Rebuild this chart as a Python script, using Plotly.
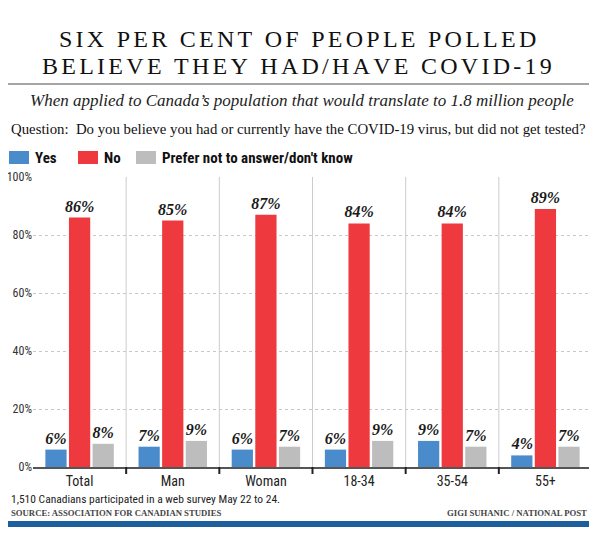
import plotly.graph_objects as go

# poll results (per cent)
categories = ["Total", "Man", "Woman", "18-34", "35-54", "55+"]
yes_vals = [6, 7, 6, 6, 9, 4]
no_vals = [86, 85, 87, 84, 84, 89]
prefer_vals = [8, 9, 7, 9, 7, 7]
y_ticks = [0, 20, 40, 60, 80, 100]

# page has an 8px body margin, so the figure is drawn 8px smaller
OFF = 8
W, H = 597 - OFF, 536 - OFF
# plot area in reference pixels: x 33..592, y 177..467
PX0, PX1, PY0, PY1 = 33, 592, 177, 467
L, R, T, B = PX0 - OFF, 597 - PX1, PY0 - OFF, 536 - PY1

SANS = "Liberation Sans Narrow, Roboto Condensed, Roboto, sans-serif"
SERIF = "Liberation Serif, DejaVu Serif, serif"


def px_x(px):
    return (px - PX0) / (PX1 - PX0)


def px_y(py):
    return (PY1 - py) / (PY1 - PY0)


def spaced(s):
    # fake letter spacing: a small no-break space between letters
    gap = '<span style="font-size:13px">\u00a0</span>'
    return gap.join(s.replace(" ", "\u00a0"))


series = [
    ("Yes", yes_vals, "#4a8ccb"),
    ("No", no_vals, "#ee3a3f"),
    ("Prefer not to answer/don't know", prefer_vals, "#bdbdbd"),
]

fig = go.Figure()
for name, vals, color in series:
    fig.add_trace(go.Bar(
        x=categories, y=vals, name=name,
        marker=dict(color=color, line=dict(width=0)),
        text=[f"{v}%" for v in vals],
        textposition="outside",
        constraintext="none",
        cliponaxis=False,
        textfont=dict(family=SERIF, size=16, color="#1a1a1a", style="italic", weight="bold"),
    ))

shapes = []
annotations = []

# separators between groups + small ticks below axis
for i in range(len(categories) - 1):
    shapes.append(dict(type="line", xref="x", yref="paper", x0=i + 0.5, x1=i + 0.5,
                       y0=0, y1=1, line=dict(color="#cccccc", width=1), layer="below"))
    shapes.append(dict(type="line", xref="x", yref="paper", x0=i + 0.5, x1=i + 0.5,
                       y0=px_y(474), y1=0, line=dict(color="#222", width=2)))
# rule under title
shapes.append(dict(type="line", xref="paper", yref="paper", x0=px_x(8), x1=px_x(593),
                   y0=px_y(84), y1=px_y(84), line=dict(color="#888", width=1.5)))
# blue bar at bottom
shapes.append(dict(type="rect", xref="paper", yref="paper", x0=px_x(8), x1=px_x(594),
                   y0=px_y(527), y1=px_y(521), fillcolor="#1d5e9c", line=dict(width=0)))

# legend drawn by hand (wide swatches like the original)
legend_x = [9, 78, 136]
for (name, vals, color), lx in zip(series, legend_x):
    shapes.append(dict(type="rect", xref="paper", yref="paper",
                       x0=px_x(lx), x1=px_x(lx + 20), y0=px_y(164), y1=px_y(151),
                       fillcolor=color, line=dict(width=0)))
    annotations.append(dict(text=f"<b>{name}</b>", x=px_x(lx + 24), y=px_y(157.5), xanchor="left",
                            font=dict(family=SANS, size=15, color="#111")))

annotations += [
    dict(text=spaced("SIX PER CENT OF PEOPLE POLLED"), x=px_x(297), y=px_y(39),
         font=dict(family=SERIF, size=24, color="#111")),
    dict(text=spaced("BELIEVE THEY HAD/HAVE COVID-19"), x=px_x(297), y=px_y(66),
         font=dict(family=SERIF, size=24, color="#111")),
    dict(text="<i>When applied to Canada\u2019s population that would translate to 1.8 million people</i>",
         x=px_x(302), y=px_y(101), font=dict(family=SERIF, size=17, color="#222")),
    dict(text="Question:  Do you believe you had or currently have the COVID-19 virus, but did not get tested?",
         x=px_x(9), y=px_y(129), xanchor="left", font=dict(family=SERIF, size=14.8, color="#111")),
    dict(text="1,510 Canadians participated in a web survey May 22 to 24.",
         x=px_x(9), y=px_y(499), xanchor="left", font=dict(family=SANS, size=11.5, color="#222")),
    dict(text="<b>SOURCE: ASSOCIATION FOR CANADIAN STUDIES</b>",
         x=px_x(9), y=px_y(513), xanchor="left", font=dict(family=SERIF, size=8.7, color="#444")),
    dict(text="<b>GIGI SUHANIC / NATIONAL POST</b>",
         x=px_x(589), y=px_y(513), xanchor="right", font=dict(family=SERIF, size=8.7, color="#444")),
]
for a in annotations:
    a.update(xref="paper", yref="paper", showarrow=False)
    a.setdefault("xanchor", "center")
    a["yanchor"] = "middle"

fig.update_layout(
    width=W, height=H,
    margin=dict(l=L, r=R, t=T, b=B, autoexpand=False),
    paper_bgcolor="white", plot_bgcolor="white",
    barmode="group", bargap=0.24, bargroupgap=0.1,
    showlegend=False,
    shapes=shapes,
    annotations=annotations,
    xaxis=dict(showgrid=False, showline=True, linecolor="#555", linewidth=2,
               ticks="", tickfont=dict(family=SANS, size=14, color="#222"),
               fixedrange=True),
    yaxis=dict(range=[0, 100], tickvals=y_ticks, ticktext=[f"{v}%" for v in y_ticks],
               showgrid=True, gridcolor="#c8c8c8", griddash="dot", gridwidth=1,
               zeroline=False, showline=False, ticks="",
               tickfont=dict(family=SANS, size=12, color="#333"), ticklabelstandoff=0),
)

fig.write_html("out.html")
